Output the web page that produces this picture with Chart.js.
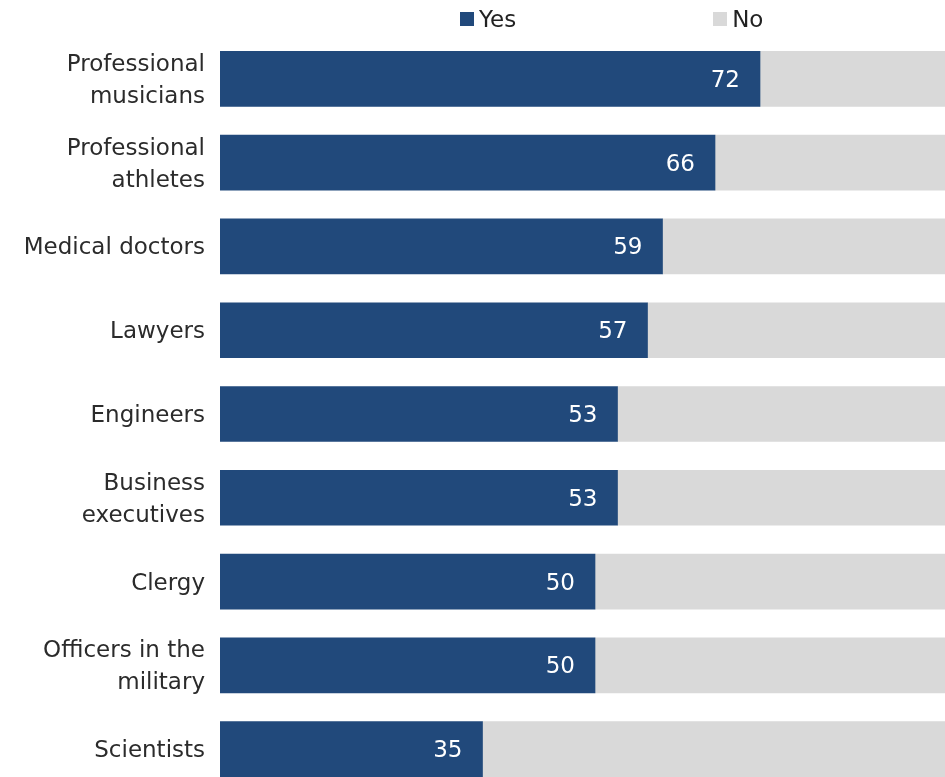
<!DOCTYPE html>
<html>
<head>
<meta charset="utf-8">
<script src="https://cdn.jsdelivr.net/npm/chart.js@4/dist/chart.umd.min.js"></script>
<style>
  html, body { margin: 0; padding: 0; background: #fff; overflow: hidden; }
  #wrap { position: relative; width: 970px; height: 791px; }
  #chart { display: block; }
  #legend { position: absolute; top: 6px; left: 460px; display: flex; font: 23px "DejaVu Sans", sans-serif; color: #222; }
  #legend .item { display: flex; align-items: center; }
  #legend .box { width: 14px; height: 14px; margin-right: 5px; }
  #legend .item + .item { margin-left: 197px; }
</style>
</head>
<body>
<div id="wrap">
  <div id="legend"></div>
  <canvas id="chart" width="970" height="791"></canvas>
</div>
<script>
const categories = [
  ['Professional', 'musicians'],
  ['Professional', 'athletes'],
  'Medical doctors',
  'Lawyers',
  'Engineers',
  ['Business', 'executives'],
  'Clergy',
  ['Officers in the', 'military'],
  'Scientists'
];
const yesValues = [72, 66, 59, 57, 53, 53, 50, 50, 35];
const noValues = [28, 34, 41, 43, 47, 47, 50, 50, 65];

const yesColor = '#21497b';
const noColor = '#d9d9d9';
const fontFamily = '"DejaVu Sans", sans-serif';

// legend as html, spacing is too wide for the built-in one
const legend = document.getElementById('legend');
[['Yes', yesColor], ['No', noColor]].forEach(([name, color]) => {
  const item = document.createElement('div');
  item.className = 'item';
  item.innerHTML = `<span class="box" style="background:${color}"></span><span>${name}</span>`;
  legend.appendChild(item);
});

// white value labels at the inner end of the Yes bars
const yesLabels = {
  id: 'yesLabels',
  afterDatasetsDraw(chart) {
    const ctx = chart.ctx;
    const meta = chart.getDatasetMeta(0);
    ctx.save();
    ctx.fillStyle = '#fff';
    ctx.font = `23px ${fontFamily}`;
    ctx.textAlign = 'right';
    ctx.textBaseline = 'middle';
    meta.data.forEach((bar, i) => {
      ctx.fillText(String(yesValues[i]), bar.x - 20, bar.y + 2);
    });
    ctx.restore();
  }
};

new Chart(document.getElementById('chart'), {
  type: 'bar',
  data: {
    labels: categories,
    datasets: [
      { label: 'Yes', data: yesValues, backgroundColor: yesColor },
      { label: 'No', data: noValues, backgroundColor: noColor }
    ]
  },
  options: {
    indexAxis: 'y',
    responsive: false,
    animation: false,
    layout: { padding: { top: 37, right: 0, bottom: 0, left: 0 } },
    datasets: { bar: { barThickness: 55 } },
    plugins: {
      legend: { display: false },
      tooltip: { enabled: false }
    },
    scales: {
      x: {
        stacked: true,
        min: 0,
        max: 100,
        display: false
      },
      y: {
        stacked: true,
        border: { display: false },
        grid: { display: false, drawTicks: false },
        afterFit: s => {
          s.width = 220;
          // label half-heights would otherwise shrink the plot area
          s.paddingTop = 0;
          s.paddingBottom = 0;
        },
        ticks: {
          padding: 15,
          labelOffset: 2,
          color: '#2b2b2b',
          font: { family: fontFamily, size: 23, lineHeight: 1.4 }
        }
      }
    }
  },
  plugins: [yesLabels]
});
</script>
</body>
</html>
